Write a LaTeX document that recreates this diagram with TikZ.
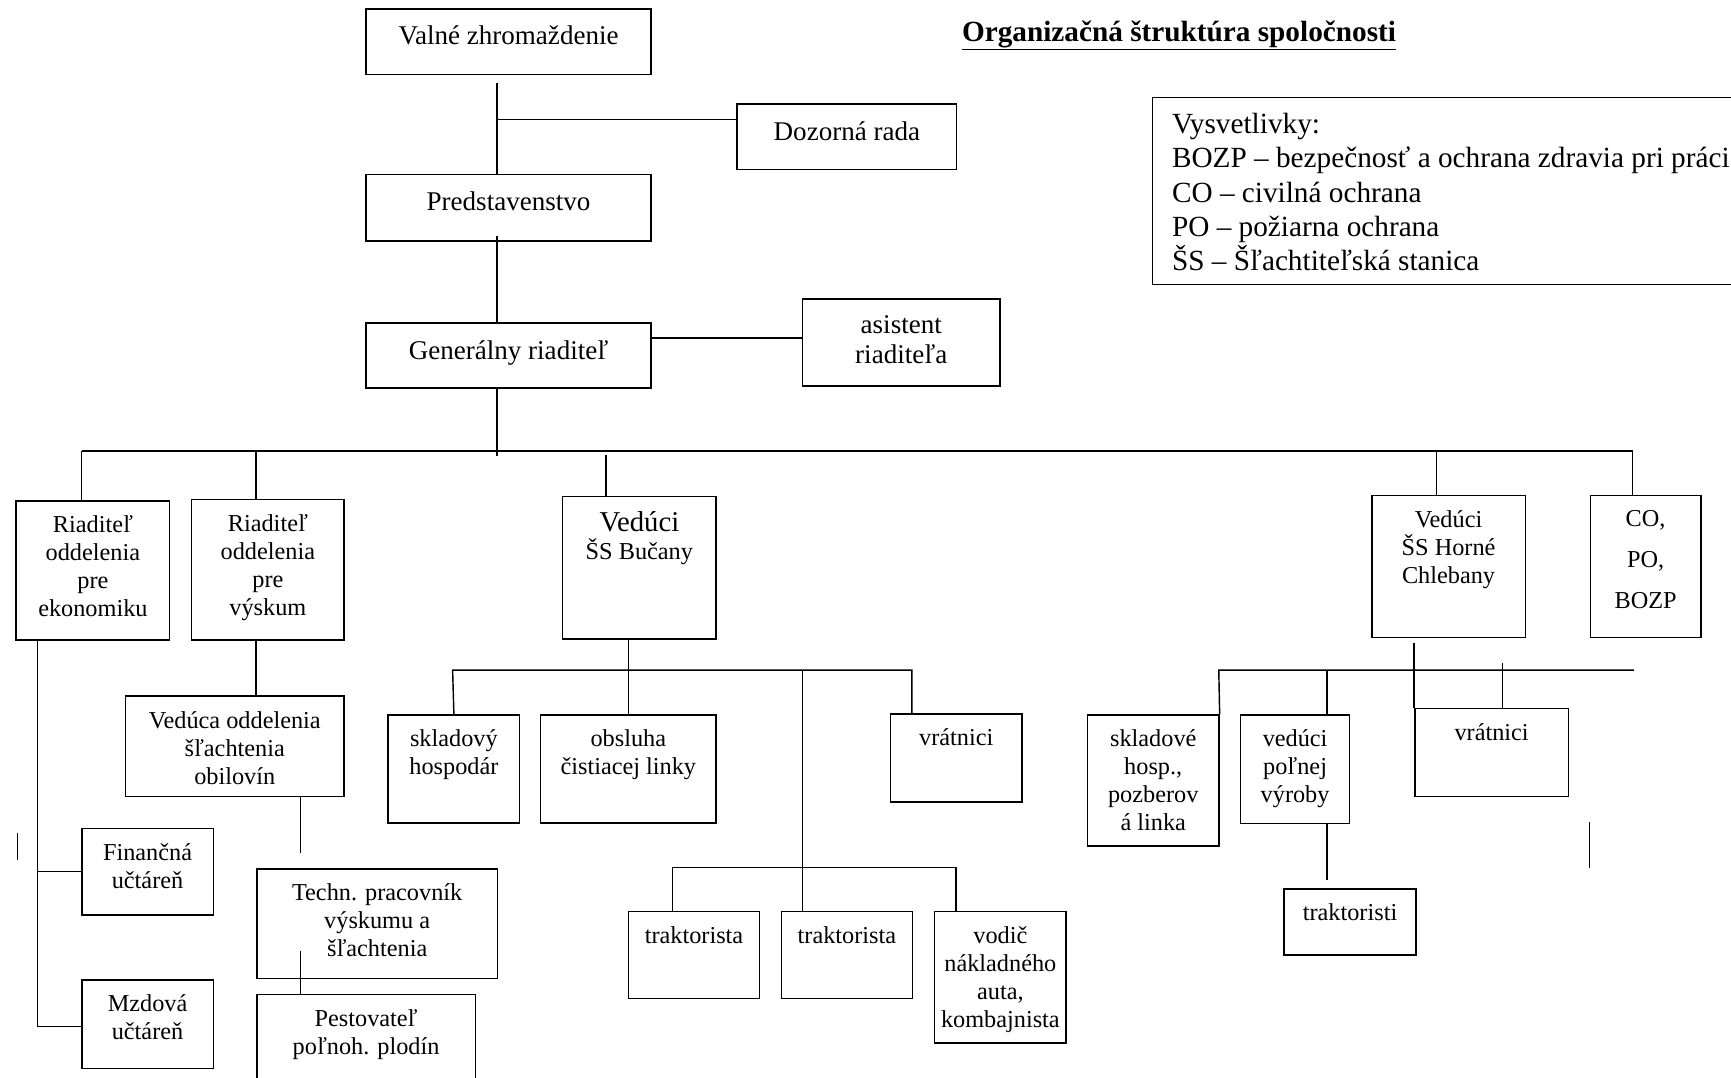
\documentclass[tikz,border=0pt]{standalone}
\usepackage{fontspec}
\setmainfont{Liberation Serif}
\tikzset{
  wire/.style={line width=1.3pt},
  box/.style={draw, line width=1.3pt, rectangle, inner sep=0pt, anchor=north west},
  txt/.style={font=\fontsize{22}{25.4}\selectfont, align=center, inner sep=0pt},
  bigtxt/.style={font=\fontsize{24.5}{26.5}\selectfont, align=center, inner sep=0pt},
  legtxt/.style={font=\fontsize{26.5}{31}\selectfont, align=left, inner sep=0pt},
  toptext/.style={label={[txt, anchor=north, yshift=-14pt]north:{#1}}},
  bigtop/.style={label={[bigtxt, anchor=north, yshift=-16pt]north:{#1}}},
  legend/.style={label={[legtxt, anchor=north west, xshift=18pt, yshift=-15pt]north west:{#1}}}
}
\begin{document}
\begin{tikzpicture}[x=1pt,y=-1pt]
      \useasboundingbox (0,0) rectangle (1568,976);
      \node[font=\fontsize{26.5}{31}\selectfont\bfseries, anchor=base] (title) at (1068,37.7) {\underline{Organizačná štruktúra spoločnosti}}; % title
      \node[box, minimum width=560, minimum height=169.5, legend={Vysvetlivky:\\BOZP – bezpečnosť a ochrana zdravia pri práci\\CO – civilná ochrana\\PO – požiarna ochrana\\ŠS – Šľachtiteľská stanica}] (leg) at (1043.5,87.5) {}; % legend

%%% top of the chart
      \node[box, minimum width=258, minimum height=59.5, bigtop={Valné zhromaždenie}] (vz) at (331,7.5) {}; % Valne
      \node[box, minimum width=199, minimum height=59.5, bigtop={Dozorná rada}] (dr) at (667,93.6) {}; % Dozorna rada
      \node[box, minimum width=258, minimum height=60, bigtop={Predstavenstvo}] (pr) at (331,157.6) {}; % Predstavenstvo
      \node[box, minimum width=258, minimum height=59, bigtop={Generálny riaditeľ}] (gr) at (331,292) {}; % GR
      \node[box, minimum width=178.5, minimum height=79, bigtop={asistent\\riaditeľa}] (as) at (726.5,270) {}; % asistent
      \coordinate (vzd) at (450,75.5);
      \coordinate (drj) at (450,108);
      \coordinate (prd) at (450,213.5);
      \coordinate (asj) at (650,306);
      \coordinate (grd) at (450,412.7);
      \draw[wire] (vzd) -- (vzd |- pr.north); % Wiring
      \draw[wire] (drj) -- (drj -| dr.west); % Wiring
      \draw[wire] (prd) -- (prd |- gr.north); % Wiring
      \draw[wire] (asj -| gr.east) -- (asj -| as.west); % Wiring
      \draw[wire] (grd |- gr.south) -- (grd); % Wiring

%%% second row
      \node[box, minimum width=139, minimum height=126, toptext={Riaditeľ\\oddelenia\\pre\\ekonomiku}] (re) at (14,453) {}; % ekonomika
      \node[box, minimum width=138, minimum height=127, toptext={Riaditeľ\\oddelenia\\pre\\výskum}] (rv) at (173,452) {}; % vyskum
      \node[box, minimum width=139, minimum height=129, toptext={{\fontsize{26}{28}\selectfont Vedúci}\\ŠS Bučany}] (vb) at (509,449) {}; % SS Bucany
      \node[box, minimum width=139, minimum height=129, toptext={Vedúci\\ŠS Horné\\Chlebany}] (vh) at (1242,448) {}; % SS Horne Chlebany
      \node[box, minimum width=100, minimum height=129, toptext={CO,\\[12pt]PO,\\[12pt]BOZP}] (co) at (1440,448) {}; % CO PO BOZP
      \coordinate (busl) at (74,408.5);
      \coordinate (busr) at (1479,408.5);
      \coordinate (rvd) at (232,408.5);
      \coordinate (vbd) at (549,412);
      \coordinate (vhd) at (1301,408.5);
      \draw[wire] (busl) -- (busr); % bus
      \draw[wire] (busl) -- (busl |- re.north); % Wiring
      \draw[wire] (rvd) -- (rvd |- rv.north); % Wiring
      \draw[wire] (vbd) -- (vbd |- vb.north); % Wiring
      \draw[wire] (vhd) -- (vhd |- vh.north); % Wiring
      \draw[wire] (busr) -- (busr |- co.north); % Wiring

%%% economy and research
      \node[box, minimum width=119, minimum height=78, toptext={Finančná\\učtáreň}] (fu) at (73.5,750) {}; % Financna
      \node[box, minimum width=119, minimum height=80, toptext={Mzdová\\učtáreň}] (mu) at (73.5,887) {}; % Mzdova
      \node[box, minimum width=198, minimum height=91, toptext={Vedúca oddelenia\\šľachtenia\\obilovín}] (vo) at (113,630) {}; % Veduca
      \node[box, minimum width=218, minimum height=99, toptext={Techn. pracovník\\výskumu a\\šľachtenia}] (tp) at (232,786.5) {}; % Techn.
      \node[box, minimum width=198, minimum height=95, toptext={Pestovateľ\\poľnoh. plodín}] (po) at (232,900) {}; % Pestovatel
      \coordinate (red) at (34,930);
      \coordinate (vod) at (272,773);
      \coordinate (tpd) at (272,861);
      \draw[wire] (red |- re.south) -- (red) -- (red -| mu.west); % Wiring
      \draw[wire] (red |- fu.west) -- (fu.west); % Wiring
      \draw[wire] (rvd |- rv.south) -- (rvd |- vo.north); % Wiring
      \draw[wire] (vod |- vo.south) -- (vod); % Wiring
      \draw[wire] (tpd) -- (tpd |- po.north); % Wiring
      \draw[wire] (16,755) -- (16,779); % stray line

%%% SS Bucany
      \node[box, minimum width=119, minimum height=98, toptext={skladový\\hospodár}] (sh) at (351,647) {}; % skladovy
      \node[box, minimum width=159, minimum height=98, toptext={obsluha\\čistiacej linky}] (oc) at (489,647) {}; % obsluha
      \node[box, minimum width=119, minimum height=80, toptext={vrátnici}] (vr1) at (806,646) {}; % vratnici
      \node[box, minimum width=119, minimum height=79, toptext={traktorista}] (tr1) at (568.5,825) {}; % traktorista
      \node[box, minimum width=119, minimum height=79, toptext={traktorista}] (tr2) at (707,825) {}; % traktorista
      \node[box, minimum width=119, minimum height=119, toptext={vodič\\nákladného\\auta,\\kombajnista}] (vk) at (846,825) {}; % vodic
      \coordinate (vbl) at (410,607);
      \coordinate (vbr) at (826,607);
      \coordinate (trj) at (727,607);
      \coordinate (trl) at (609,786);
      \coordinate (trr) at (866,786);
      \draw[wire] (vb.south -| oc.north) -- (oc.north); % Wiring
      \draw[wire] (sh.north) -- (vbl) -- (vbr) -- (vbr |- vr1.north); % Wiring
      \draw[wire] (trj) -- (trj |- tr2.north); % Wiring
      \draw[wire] (trl |- tr1.north) -- (trl) -- (trr) -- (trr |- vk.north); % Wiring

%%% SS Horne Chlebany
      \node[box, minimum width=119, minimum height=118.5, toptext={skladové\\hosp.,\\pozberov\\á linka}] (sk) at (984.5,647) {}; % skladove
      \node[box, minimum width=99, minimum height=98.5, toptext={vedúci\\poľnej\\výroby}] (vp) at (1123,647) {}; % veduci
      \node[box, minimum width=139, minimum height=80, toptext={vrátnici}] (vr2) at (1281,641) {}; % vratnici
      \node[box, minimum width=119.5, minimum height=60, toptext={traktoristi}] (ts) at (1162.5,804.5) {}; % traktoristi
      \coordinate (vhl) at (1104,607);
      \coordinate (vhr) at (1480,607);
      \coordinate (vpj) at (1202,607);
      \coordinate (vrd) at (1281,582.5);
      \coordinate (vrj) at (1361,601);
      \coordinate (tsj) at (1202,797);
      \draw[wire] (sk.north east) -- (vhl) -- (vhr); % Wiring
      \draw[wire] (vpj) -- (vpj |- vp.north); % Wiring
      \draw[wire] (vrd) -- (vr2.north west); % Wiring
      \draw[wire] (vrj) -- (vrj |- vr2.north); % Wiring
      \draw[wire] (tsj |- vp.south) -- (tsj); % Wiring
      \draw[wire] (1440,745) -- (1440,786); % stray line
\end{tikzpicture}
\end{document}
